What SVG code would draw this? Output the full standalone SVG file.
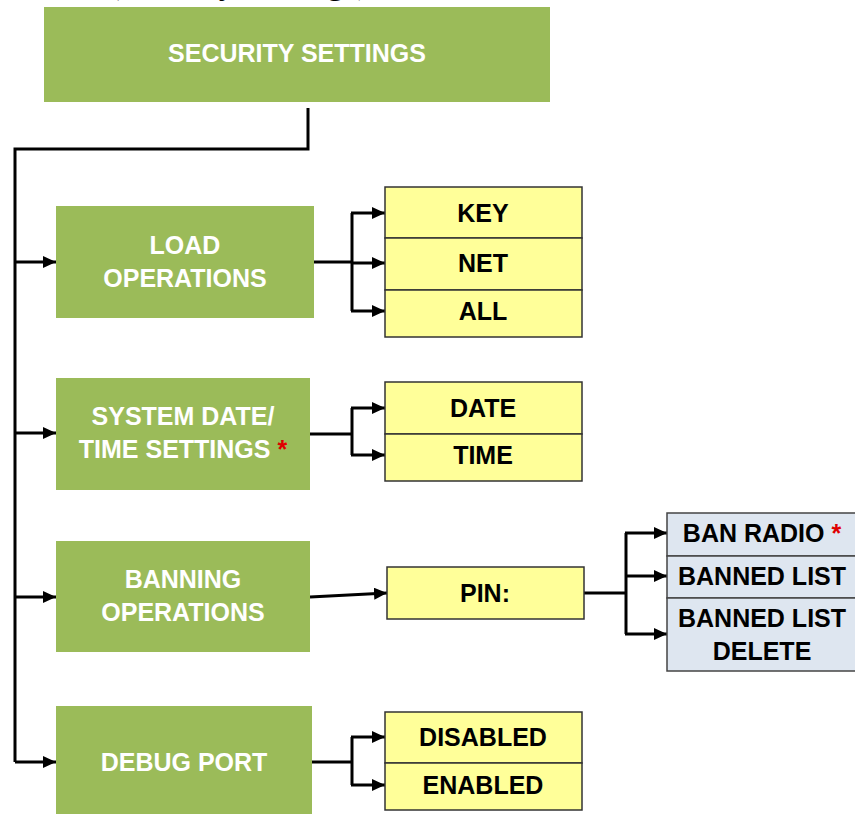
<svg xmlns="http://www.w3.org/2000/svg" width="855" height="814" viewBox="0 0 855 814">
<defs>
<marker id="ah" markerUnits="userSpaceOnUse" markerWidth="14" markerHeight="12" refX="13" refY="6" orient="auto">
<path d="M0,0 L13,6 L0,12 z" fill="#000"/>
</marker>
<style>
.g{fill:#9BBB59}
.y{fill:#FFFF99;stroke:#333;stroke-width:1.5}
.b{fill:#DEE6F0;stroke:#444;stroke-width:1.5}
.tw{font-family:"Liberation Sans",Arial,sans-serif;font-weight:bold;font-size:25px;fill:#fff;text-anchor:middle}
.tb{font-family:"Liberation Sans",Arial,sans-serif;font-weight:bold;font-size:25px;fill:#000;text-anchor:middle}
.r{fill:#e00000}
.c{fill:none;stroke:#000;stroke-width:3}
.a{fill:none;stroke:#000;stroke-width:3;marker-end:url(#ah)}
</style>
</defs>
<rect width="855" height="814" fill="#fff"/>
<text x="108" y="-7" font-family="Liberation Serif,Times New Roman,serif" font-size="35">(Security Settings)</text>

<g id="connectors">
<polyline class="c" points="308,108 308,149 15,149 15,762"/>
<line class="a" x1="15" y1="262" x2="56" y2="262"/>
<line class="a" x1="15" y1="433" x2="56" y2="433"/>
<line class="a" x1="15" y1="597" x2="56" y2="597"/>
<line class="a" x1="15" y1="762" x2="56" y2="762"/>
<polyline class="c" points="314,262 352,262"/>
<polyline class="c" points="352,311 352,213"/>
<line class="a" x1="351" y1="213" x2="385" y2="213"/>
<line class="a" x1="351" y1="263" x2="385" y2="263"/>
<line class="a" x1="351" y1="311" x2="385" y2="311"/>
<polyline class="c" points="310,434 352,434"/>
<polyline class="c" points="352,455 352,408"/>
<line class="a" x1="351" y1="408" x2="385" y2="408"/>
<line class="a" x1="351" y1="455" x2="385" y2="455"/>
<line class="a" x1="310" y1="597" x2="387" y2="593"/>
<polyline class="c" points="584,593 626,593"/>
<polyline class="c" points="626,634 626,533"/>
<line class="a" x1="625" y1="533" x2="667" y2="533"/>
<line class="a" x1="625" y1="576" x2="667" y2="576"/>
<line class="a" x1="625" y1="634" x2="667" y2="634"/>
<polyline class="c" points="312,762 352,762"/>
<polyline class="c" points="352,785 352,737"/>
<line class="a" x1="351" y1="737" x2="385" y2="737"/>
<line class="a" x1="351" y1="785" x2="385" y2="785"/>
</g>

<g id="security-settings"><rect class="g" x="44" y="7" width="506" height="95"/><text class="tw" x="297" y="62">SECURITY SETTINGS</text></g>

<g id="load-operations"><rect class="g" x="56" y="206" width="258" height="112"/><text class="tw" x="185" y="254">LOAD</text><text class="tw" x="185" y="287">OPERATIONS</text></g>
<g id="key"><rect class="y" x="385" y="187" width="197" height="51"/><text class="tb" x="483" y="222">KEY</text></g>
<g id="net"><rect class="y" x="385" y="238" width="197" height="52"/><text class="tb" x="483" y="272">NET</text></g>
<g id="all"><rect class="y" x="385" y="290" width="197" height="47"/><text class="tb" x="483" y="320">ALL</text></g>

<g id="system-date-time"><rect class="g" x="56" y="378" width="254" height="112"/><text class="tw" x="183" y="425">SYSTEM DATE/</text><text class="tw" x="183" y="458">TIME SETTINGS <tspan class="r">*</tspan></text></g>
<g id="date"><rect class="y" x="385" y="382" width="197" height="52"/><text class="tb" x="483" y="417">DATE</text></g>
<g id="time"><rect class="y" x="385" y="434" width="197" height="47"/><text class="tb" x="483" y="464">TIME</text></g>

<g id="banning-operations"><rect class="g" x="56" y="541" width="254" height="111"/><text class="tw" x="183" y="588">BANNING</text><text class="tw" x="183" y="621">OPERATIONS</text></g>
<g id="pin"><rect class="y" x="387" y="567" width="197" height="52"/><text class="tb" x="485" y="602">PIN:</text></g>
<g id="ban-radio"><rect class="b" x="667" y="513" width="190" height="43"/><text class="tb" x="762" y="542">BAN RADIO <tspan class="r">*</tspan></text></g>
<g id="banned-list"><rect class="b" x="667" y="556" width="190" height="42"/><text class="tb" x="762" y="585">BANNED LIST</text></g>
<g id="banned-list-delete"><rect class="b" x="667" y="598" width="190" height="73"/><text class="tb" x="762" y="627">BANNED LIST</text><text class="tb" x="762" y="660">DELETE</text></g>

<g id="debug-port"><rect class="g" x="56" y="706" width="256" height="110"/><text class="tw" x="184" y="771">DEBUG PORT</text></g>
<g id="disabled"><rect class="y" x="385" y="712" width="197" height="51"/><text class="tb" x="483" y="746">DISABLED</text></g>
<g id="enabled"><rect class="y" x="385" y="763" width="197" height="47"/><text class="tb" x="483" y="794">ENABLED</text></g>
</svg>
